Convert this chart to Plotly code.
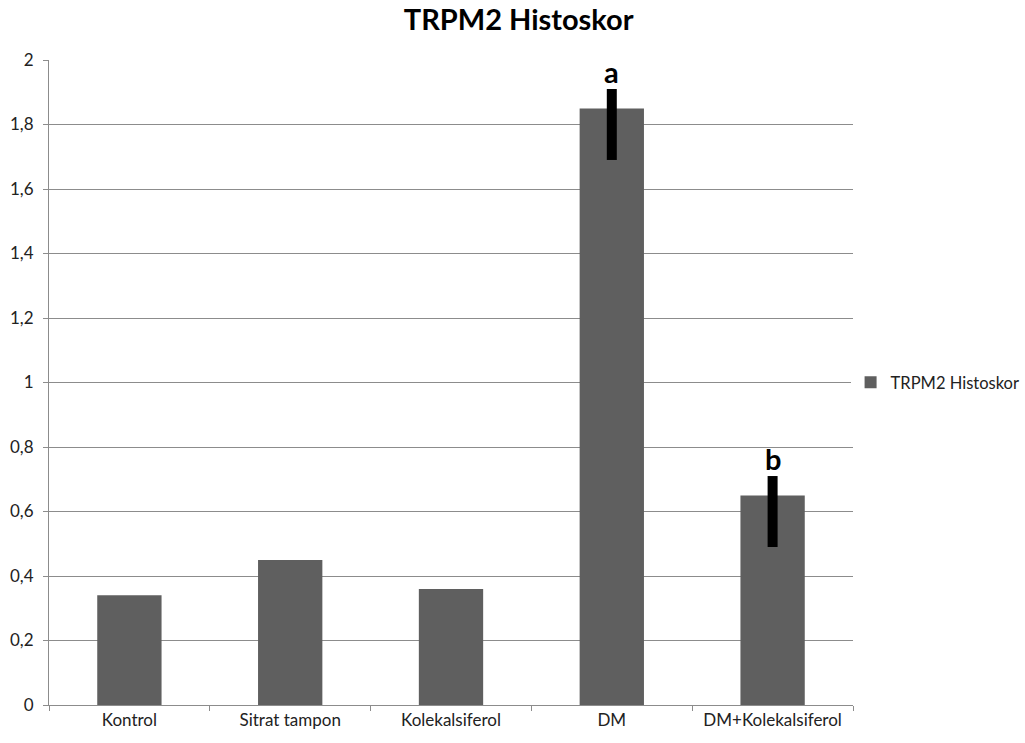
import plotly.graph_objects as go

categories = ["Kontrol", "Sitrat tampon", "Kolekalsiferol", "DM", "DM+Kolekalsiferol"]
values = [0.34, 0.45, 0.36, 1.85, 0.65]
err_plus = [None, None, None, 0.06, 0.06]
err_minus = [None, None, None, 0.16, 0.16]
sig_labels = ["", "", "", "a", "b"]

bar_color = "#5f5f5f"
grid_color = "#8c8c8c"
font_family = "Lato, 'Open Sans', sans-serif"

fig = go.Figure()
fig.add_trace(go.Bar(
    x=categories,
    y=values,
    name="TRPM2 Histoskor",
    marker=dict(color=bar_color, line=dict(width=0)),
    error_y=dict(
        type="data",
        symmetric=False,
        array=err_plus,
        arrayminus=err_minus,
        color="black",
        thickness=10,
        width=0,
    ),
))

for cat, val, ep, lab in zip(categories, values, err_plus, sig_labels):
    if lab:
        fig.add_annotation(
            x=cat, y=val + ep, text="<b>%s</b>" % lab,
            showarrow=False, yanchor="bottom", yshift=-2,
            font=dict(size=29, color="black", family=font_family),
        )

fig.update_layout(
    width=1025, height=743,
    paper_bgcolor="white", plot_bgcolor="white",
    margin=dict(l=49, r=172, t=60, b=38, autoexpand=False),
    separators=", ",
    bargap=0.6,
    font=dict(family=font_family, size=17, color="#222222"),
    title=dict(
        text="<b>TRPM2 Histoskor</b>",
        x=0.506, xanchor="center",
        y=1 - 20 / 743, yanchor="middle",
        font=dict(size=29, color="black", family=font_family),
    ),
    showlegend=True,
    legend=dict(
        x=0.997, y=0.5, xanchor="left", yanchor="middle",
        font=dict(size=16.5, color="#222222"),
        itemwidth=30,
    ),
)

fig.update_xaxes(
    showline=True, linecolor=grid_color, linewidth=1,
    ticks="outside", tickson="boundaries", ticklen=5, tickcolor=grid_color,
    showgrid=False,
)
fig.update_yaxes(
    range=[0, 2], dtick=0.2,
    showline=True, linecolor=grid_color, linewidth=1,
    ticks="outside", ticklen=5, tickcolor=grid_color,
    ticklabelstandoff=6,
    showgrid=True, gridcolor=grid_color, gridwidth=1,
    zeroline=False,
)

fig.write_html("out.html")
